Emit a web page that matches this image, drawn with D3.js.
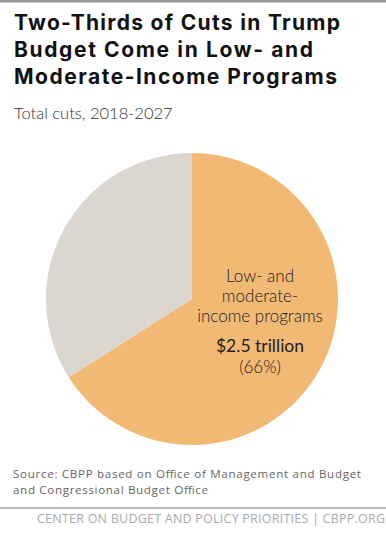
<!DOCTYPE html>
<html>
<head>
<meta charset="utf-8">
<script src="https://cdn.jsdelivr.net/npm/d3@7"></script>
<style>
  body { margin: 0; background: #fff; }
  svg { display: block; }
</style>
</head>
<body>
<div id="chart"></div>
<script>
// data
var categories = ["Low- and moderate-income programs", "Other"];
var values = [66, 34];
var labelLines = ["Low- and", "moderate-", "income programs"];
var amountLabel = "$2.5 trillion";
var shareLabel = "(66%)";
var colors = ["#f2b974", "#dcd6d0"];

var W = 386, H = 535;

var svg = d3.select("#chart")
  .append("svg")
  .attr("width", W)
  .attr("height", H);

// top rule
svg.append("rect").attr("x", 0).attr("y", 0).attr("width", W).attr("height", 2.5).attr("fill", "#9a9a9a");

// title, stretched a little to the width of the original face
var title = ["Two-Thirds of Cuts in Trump", "Budget Come in Low- and", "Moderate-Income Programs"];
var titleWidths = [326, 299, 323];
svg.append("g")
  .selectAll("text")
  .data(title)
  .enter()
  .append("text")
  .attr("x", 14)
  .attr("y", function (d, i) { return 30 + i * 27; })
  .attr("textLength", function (d, i) { return titleWidths[i]; })
  .attr("lengthAdjust", "spacing")
  .style("font-family", "Inter, 'Open Sans', sans-serif")
  .style("font-weight", 700)
  .style("font-size", "21px")
  .style("fill", "#111")
  .text(function (d) { return d; });

svg.append("text")
  .attr("x", 14)
  .attr("y", 119)
  .style("font-family", "Lato, sans-serif")
  .style("font-weight", 300)
  .style("font-size", "16.5px")
  .style("fill", "#333")
  .text("Total cuts, 2018-2027");

// pie
var cx = 192, cy = 299, r = 146;
var pie = d3.pie().sort(null).value(function (d) { return d; });
var arc = d3.arc().innerRadius(0).outerRadius(r);

var g = svg.append("g").attr("transform", "translate(" + cx + "," + cy + ")");
g.selectAll("path")
  .data(pie(values))
  .enter()
  .append("path")
  .attr("d", arc)
  .attr("fill", function (d, i) { return colors[i]; });

// slice label
var lab = svg.append("g").attr("transform", "translate(260,0)")
  .style("font-family", "Lato, sans-serif")
  .style("fill", "#222")
  .attr("text-anchor", "middle");

lab.selectAll("text.l")
  .data(labelLines)
  .enter()
  .append("text")
  .attr("class", "l")
  .attr("y", function (d, i) { return 282 + i * 20; })
  .style("font-weight", 300)
  .style("font-size", "17px")
  .text(function (d) { return d; });

lab.append("text")
  .attr("y", 352)
  .style("font-weight", 400)
  .style("font-size", "17.5px")
  .text(amountLabel);

lab.append("text")
  .attr("y", 373)
  .style("font-weight", 300)
  .style("font-size", "17px")
  .text(shareLabel);

// source
var source = ["Source: CBPP based on Office of Management and Budget", "and Congressional Budget Office"];
var sourceWidths = [348, 195];
svg.append("g")
  .selectAll("text")
  .data(source)
  .enter()
  .append("text")
  .attr("x", 13)
  .attr("y", function (d, i) { return 478 + i * 16; })
  .attr("textLength", function (d, i) { return sourceWidths[i]; })
  .attr("lengthAdjust", "spacing")
  .style("font-family", "'Open Sans', sans-serif")
  .style("font-size", "11.6px")
  .style("fill", "#666")
  .text(function (d) { return d; });

svg.append("line")
  .attr("x1", 0).attr("x2", W)
  .attr("y1", 508).attr("y2", 508)
  .attr("stroke", "#777")
  .attr("stroke-width", 1.2);

svg.append("text")
  .attr("x", 385)
  .attr("y", 523)
  .attr("text-anchor", "end")
  .attr("textLength", 348)
  .attr("lengthAdjust", "spacing")
  .style("font-family", "'Open Sans', sans-serif")
  .style("font-size", "12.5px")
  .style("fill", "#aaa")
  .text("CENTER ON BUDGET AND POLICY PRIORITIES | CBPP.ORG");
</script>
</body>
</html>
